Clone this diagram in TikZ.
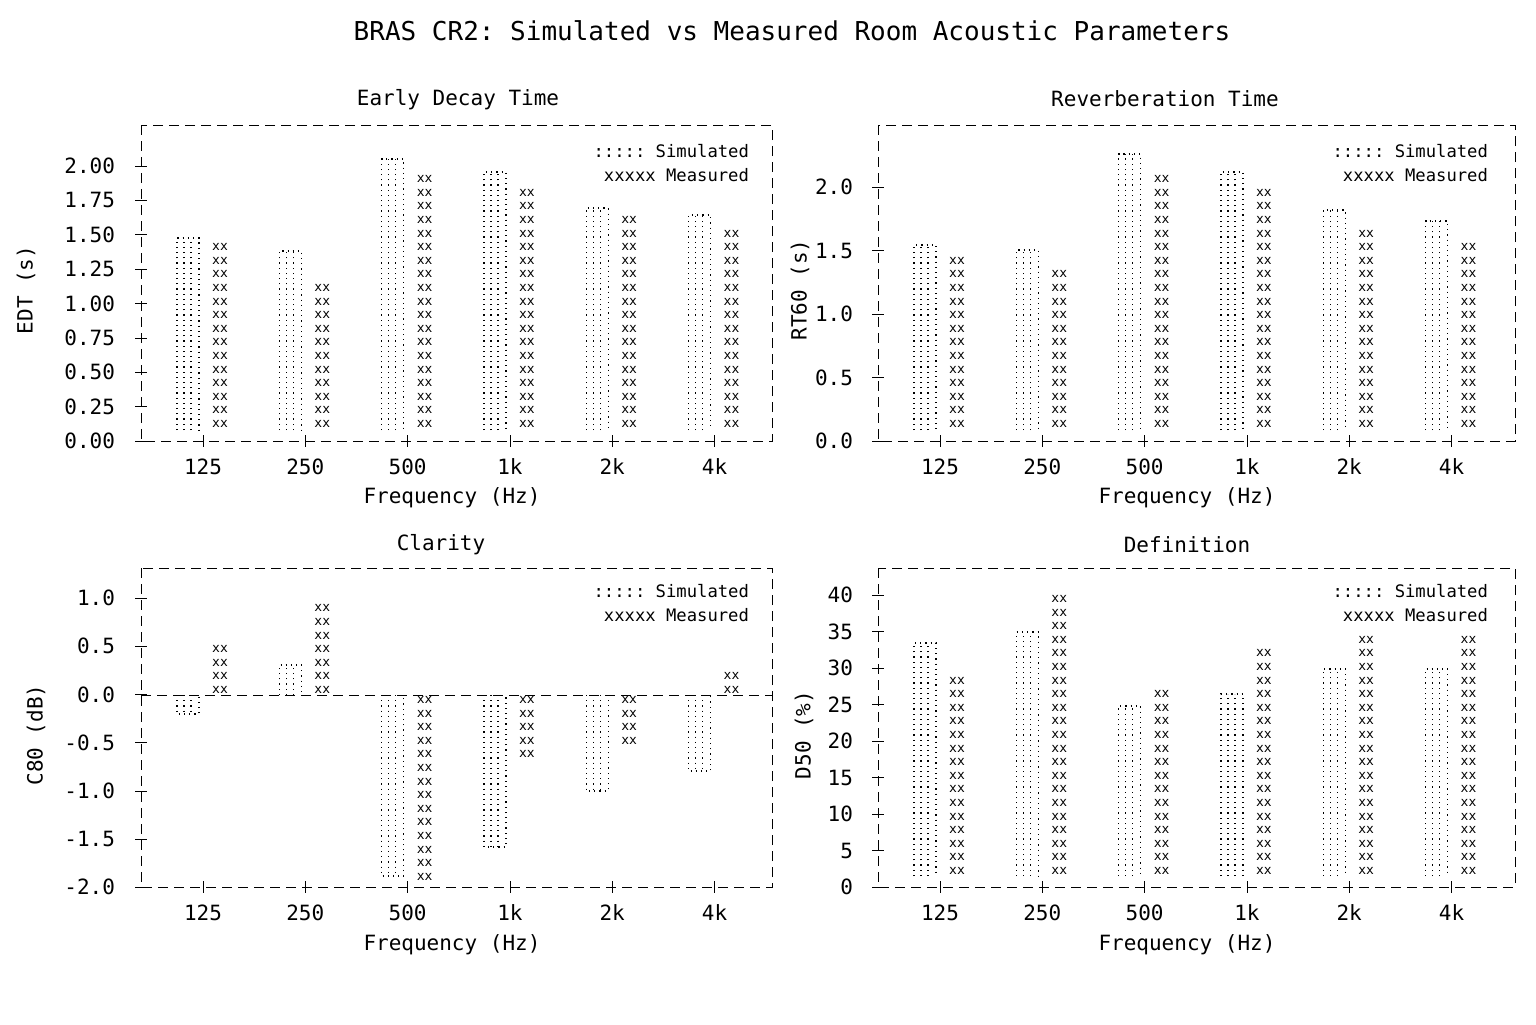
\documentclass[tikz,border=0pt]{standalone}
\usepackage{fontspec}
\setmonofont{DejaVu Sans Mono}
\usetikzlibrary{positioning}
\tikzset{
  frame/.style={dash pattern=on 5pt off 3pt, line width=0.5pt},
  lab/.style={font=\ttfamily\fontsize{10.5}{12}\selectfont},
  leg/.style={font=\ttfamily\fontsize{8.6}{10}\selectfont},
  ttl/.style={font=\ttfamily\fontsize{13}{15}\selectfont},
  meas/.style={font=\ttfamily\fontsize{6.5}{7}\selectfont, inner sep=0pt},
  simb/.style={dotted, line width=0.6pt},
}
% simulated bar: tick x, base y, top y (pixels)
\newcommand\simbar[3]{%
  \draw[simb] (#1-26,#2) -- (#1-26,#3) -- (#1-4,#3) -- (#1-4,#2);
  \draw[simb] (#1-19,#2) -- (#1-19,#3);
  \draw[simb] (#1-12,#2) -- (#1-12,#3);
}
% measured bar: tick x, first row y, last row y
\newcommand\measbar[3]{%
  \pgfmathsetmacro\mstep{#3<#2 ? -13.6 : 13.6}
  \pgfmathsetmacro\msecond{#2+\mstep}
  \pgfmathsetmacro\mlast{#3+0.5*\mstep}
  \foreach \yy in {#2,\msecond,...,\mlast} \node[meas] at (#1+17,\yy) {xx};
}
\newcommand\legendbox[2]{%
  \node[leg, anchor=east] at (#1,#2) {::::: Simulated};
  \node[leg, anchor=east] at (#1,#2+24) {xxxxx Measured};
}
\begin{document}
\begin{tikzpicture}[x=0.5pt,y=-0.5pt]
\useasboundingbox (0,0) rectangle (1536,1024);

\node[ttl] (title) at (792,31) {BRAS CR2: Simulated vs Measured Room Acoustic Parameters};

%frames
\draw[frame] (141,125) rectangle (772,441);
\draw[frame] (878,125) rectangle (1515,441);
\draw[frame] (141,568) rectangle (772,887);
\draw[frame] (878,568) rectangle (1515,887);
\draw[frame] (141,695) -- (772,695);

%x ticks
\foreach \x/\f [count=\i] in {0/125,102.3/250,204.6/500,306.9/1k,409.2/2k,511.5/4k}{
  \draw (203+\x,435) -- (203+\x,447);
  \node[lab] at (203+\x,467) {\f};
  \draw (940+\x,435) -- (940+\x,447);
  \node[lab] at (940+\x,467) {\f};
  \draw (203+\x,881) -- (203+\x,893);
  \node[lab] at (203+\x,913) {\f};
  \draw (940+\x,881) -- (940+\x,893);
  \node[lab] at (940+\x,913) {\f};
}

%y ticks
\foreach \y/\v in {441/0.00,406.6/0.25,372.2/0.50,337.9/0.75,303.5/1.00,269.1/1.25,234.8/1.50,200.4/1.75,166/2.00}
  {\draw (135,\y) -- (147,\y); \node[lab, anchor=east] at (122,\y) {\v};}
\foreach \y/\v in {441/0.0,377.5/0.5,314/1.0,250.5/1.5,187/2.0}
  {\draw (872,\y) -- (884,\y); \node[lab, anchor=east] at (860,\y) {\v};}
\foreach \y/\v in {598/1.0,646.3/0.5,694.7/0.0,742.8/-0.5,791/-1.0,839/-1.5,887/-2.0}
  {\draw (135,\y) -- (147,\y); \node[lab, anchor=east] at (122,\y) {\v};}
\foreach \y/\v in {887/0,850.5/5,814/10,777.5/15,741/20,704.5/25,668/30,631.5/35,595/40}
  {\draw (872,\y) -- (884,\y); \node[lab, anchor=east] at (860,\y) {\v};}

%titles and axis labels
\node[lab] at (458,100) {Early Decay Time};
\node[lab] at (1165,99) {Reverberation Time};
\node[lab] at (441,545) {Clarity};
\node[lab] at (1187,545) {Definition};
\node[lab] at (452,498) {Frequency (Hz)};
\node[lab] at (1187,498) {Frequency (Hz)};
\node[lab] at (452,945) {Frequency (Hz)};
\node[lab] at (1187,945) {Frequency (Hz)};
\node[lab, rotate=90] at (26,290) {EDT (s)};
\node[lab, rotate=90] at (800,290) {RT60 (s)};
\node[lab, rotate=90] at (36,735) {C80 (dB)};
\node[lab, rotate=90] at (804,735) {D50 (\%)};

%legends
\legendbox{756}{151}
\legendbox{1495}{151}
\legendbox{756}{591}
\legendbox{1495}{591}

%EDT
\foreach \x/\s/\m [count=\i] in {203/238/247,305.3/251/282,407.6/159/183,509.9/172/196,612.2/208/219,714.5/215/235}
  {\simbar{\x}{430}{\s} \measbar{\x}{424}{\m}}
%RT60
\foreach \x/\s/\m [count=\i] in {940/245/262,1042.3/250/276,1144.6/154/176,1246.9/172/189,1349.2/210/232,1451.5/221/247}
  {\simbar{\x}{430}{\s} \measbar{\x}{424}{\m}}
%C80
\simbar{203}{695}{714} \measbar{203}{690}{648}
\simbar{305.3}{695}{665} \measbar{305.3}{690}{615}
\simbar{407.6}{695}{876} \measbar{407.6}{700}{882}
\simbar{509.9}{695}{847} \measbar{509.9}{700}{758}
\simbar{612.2}{695}{791} \measbar{612.2}{700}{738}
\simbar{714.5}{695}{771} \measbar{714.5}{690}{678}
%D50
\foreach \x/\s/\m [count=\i] in {940/643/686,1042.3/632/600,1144.6/706/688,1246.9/694/659,1349.2/669/643,1451.5/669/643}
  {\simbar{\x}{876}{\s} \measbar{\x}{871}{\m}}
\end{tikzpicture}
\end{document}
